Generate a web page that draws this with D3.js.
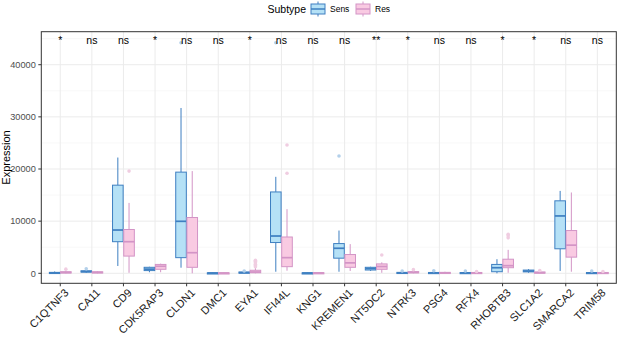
<!DOCTYPE html>
<html><head><meta charset="utf-8">
<script src="https://cdn.jsdelivr.net/npm/d3@7"></script>
<style>body{margin:0;background:#fff}svg{display:block;font-family:"Liberation Sans",Arial,sans-serif}</style>
</head><body><svg id="c" width="617" height="337"></svg>
<script>
const genes = ["C1QTNF3","CA11","CD9","CDK5RAP3","CLDN1","DMC1","EYA1","IFI44L","KNG1","KREMEN1","NT5DC2","NTRK3","PSG4","RFX4","RHOBTB3","SLC1A2","SMARCA2","TRIM58"];
const signif = ["*","ns","ns","*","ns","ns","*","ns","ns","ns","**","*","ns","ns","*","*","ns","ns"];
const subtypes = ["Sens","Res"];
// [lower whisker, Q1, median, Q3, upper whisker]
const sensStats = [
 [0,30,80,180,350],[80,230,330,480,700],[1400,6060,8300,16900,22200],[200,520,800,1150,1250],
 [1070,3000,9970,19400,31700],[0,20,50,90,150],[0,50,120,250,400],[300,5900,7150,15600,18500],
 [0,20,50,90,150],[300,2900,4800,5700,8200],[450,630,900,1150,1250],[0,30,80,180,300],
 [0,30,70,160,280],[0,20,60,150,250],[0,300,1070,1700,2700],[100,270,430,620,800],
 [450,4700,11000,13900,15800],[0,20,60,150,250]];
const sensOutliers = [[],[850],[],[],[44200],[],[450],[44200],[],[22500],[],[450],[500],[450],[],[],[],[450]];
const resStats = [
 [0,60,150,300,500],[0,100,180,280,400],[100,3300,6060,8400,13500],[200,770,1350,1700,1850],
 [0,1150,3950,10700,19600],[0,20,50,90,150],[0,100,250,580,1000],[500,1270,3000,6960,12300],
 [0,20,60,120,200],[450,1150,2000,3600,5600],[100,770,1300,1800,2100],[0,80,180,320,500],
 [0,30,80,180,300],[0,30,70,160,280],[100,1070,1460,2700,4500],[0,50,120,250,400],
 [300,3100,5400,8200,15500],[0,30,70,160,250]];
const resOutliers = [[800],[],[19600],[],[],[],[1250,1500,1750,2000,2300,2500],[19200,24600],[],[],[3500],[700],[],[350],[6800,7200,7500],[550],[],[350]];
const yTicks = [0,10000,20000,30000,40000];
const yMinor = [5000,15000,25000,35000,45000];
const sigY = 44700;

const colors = {Sens:{stroke:"#3E7FC1",fill:"#B5E1F6",out:"#B3D0EA"}, Res:{stroke:"#D394C6",fill:"#F9CAE2",out:"#F0CDE1"}};

const svg = d3.select("#c");
const L=41.3, R=616.3, T=31.7, B=283.3;
const x = d3.scalePoint().domain(genes).range([L,R]).padding(0.6);
const y = d3.scaleLinear().domain([-1918,46330]).range([B,T]);
const dodge = {Sens:-5.6, Res:5.6};
const bw = 10.6;

// grid
const g = svg.append("g");
g.selectAll(".mn").data(yMinor.filter(v=>y(v)>T)).join("line")
 .attr("x1",L).attr("x2",R).attr("y1",d=>y(d)).attr("y2",d=>y(d)).attr("stroke","#F3F3F3").attr("stroke-width",0.6);
g.selectAll(".mj").data(yTicks).join("line")
 .attr("x1",L).attr("x2",R).attr("y1",d=>y(d)).attr("y2",d=>y(d)).attr("stroke","#EBEBEB").attr("stroke-width",1);
g.selectAll(".vx").data(genes).join("line")
 .attr("x1",d=>x(d)).attr("x2",d=>x(d)).attr("y1",T).attr("y2",B).attr("stroke","#EBEBEB").attr("stroke-width",1);

// boxes
function drawBoxes(name, stats, outs){
  const c = colors[name];
  const gg = svg.append("g");
  genes.forEach((gene,i)=>{
    const s = stats[i];
    const cx = x(gene)+dodge[name];
    gg.append("line").attr("x1",cx).attr("x2",cx).attr("y1",y(s[0])).attr("y2",y(s[1])).attr("stroke",c.stroke).attr("stroke-width",1);
    gg.append("line").attr("x1",cx).attr("x2",cx).attr("y1",y(s[3])).attr("y2",y(s[4])).attr("stroke",c.stroke).attr("stroke-width",1);
    gg.append("rect").attr("x",cx-bw/2).attr("width",bw).attr("y",y(s[3])).attr("height",Math.max(y(s[1])-y(s[3]),1.2))
      .attr("fill",c.fill).attr("stroke",c.stroke).attr("stroke-width",1);
    gg.append("line").attr("x1",cx-bw/2).attr("x2",cx+bw/2).attr("y1",y(s[2])).attr("y2",y(s[2])).attr("stroke",c.stroke).attr("stroke-width",1.7);
    outs[i].forEach(v=>{
      gg.append("circle").attr("cx",cx).attr("cy",y(v)).attr("r",1.8).attr("fill",c.out);
    });
  });
}
drawBoxes("Sens", sensStats, sensOutliers);
drawBoxes("Res", resStats, resOutliers);

// significance labels
svg.append("g").selectAll("text").data(genes).join("text")
 .attr("x",d=>x(d)).attr("y",y(sigY)+4.2).attr("text-anchor","middle").attr("font-size",10.5).attr("fill","#000")
 .text((d,i)=>signif[i]);

// panel border
svg.append("rect").attr("x",L).attr("y",T).attr("width",R-L).attr("height",B-T).attr("fill","none").attr("stroke","#333").attr("stroke-width",1);

// y axis
const ya = svg.append("g");
ya.selectAll("line").data(yTicks).join("line").attr("x1",L-3).attr("x2",L).attr("y1",d=>y(d)).attr("y2",d=>y(d)).attr("stroke","#333");
ya.selectAll("text").data(yTicks).join("text").attr("x",L-5.5).attr("y",d=>y(d)).attr("dy","0.35em")
 .attr("text-anchor","end").attr("font-size",9.2).attr("fill","#4D4D4D").text(d=>d);
svg.append("text").attr("transform",`translate(9.5,${(T+B)/2}) rotate(-90)`).attr("text-anchor","middle")
 .attr("font-size",11).attr("fill","#000").text("Expression");

// x axis
const xa = svg.append("g");
xa.selectAll("line").data(genes).join("line").attr("x1",d=>x(d)).attr("x2",d=>x(d)).attr("y1",B).attr("y2",B+3).attr("stroke","#333");
xa.selectAll("text").data(genes).join("text")
 .attr("transform",d=>`translate(${x(d)+3.5},${B+4.5}) rotate(-45)`)
 .attr("text-anchor","end").attr("dy","0.72em").attr("font-size",11).attr("fill","#1A1A1A").text(d=>d);

// legend
const lg = svg.append("g");
lg.append("text").attr("x",267.5).attr("y",9).attr("dy","0.35em").attr("font-size",10.5).attr("fill","#000").text("Subtype");
const keyX = {Sens:311, Res:356};
subtypes.forEach(st=>{
  const c = colors[st], kx = keyX[st];
  const cx = kx+7;
  lg.append("line").attr("x1",cx).attr("x2",cx).attr("y1",1.5).attr("y2",16.5).attr("stroke",c.stroke);
  lg.append("rect").attr("x",kx).attr("y",4).attr("width",14).attr("height",10).attr("fill",c.fill).attr("stroke",c.stroke);
  lg.append("line").attr("x1",kx).attr("x2",kx+14).attr("y1",9).attr("y2",9).attr("stroke",c.stroke).attr("stroke-width",1.5);
  lg.append("text").attr("x",kx+19).attr("y",9).attr("dy","0.35em").attr("font-size",8.5).attr("fill","#000").text(st);
});
</script></body></html>
